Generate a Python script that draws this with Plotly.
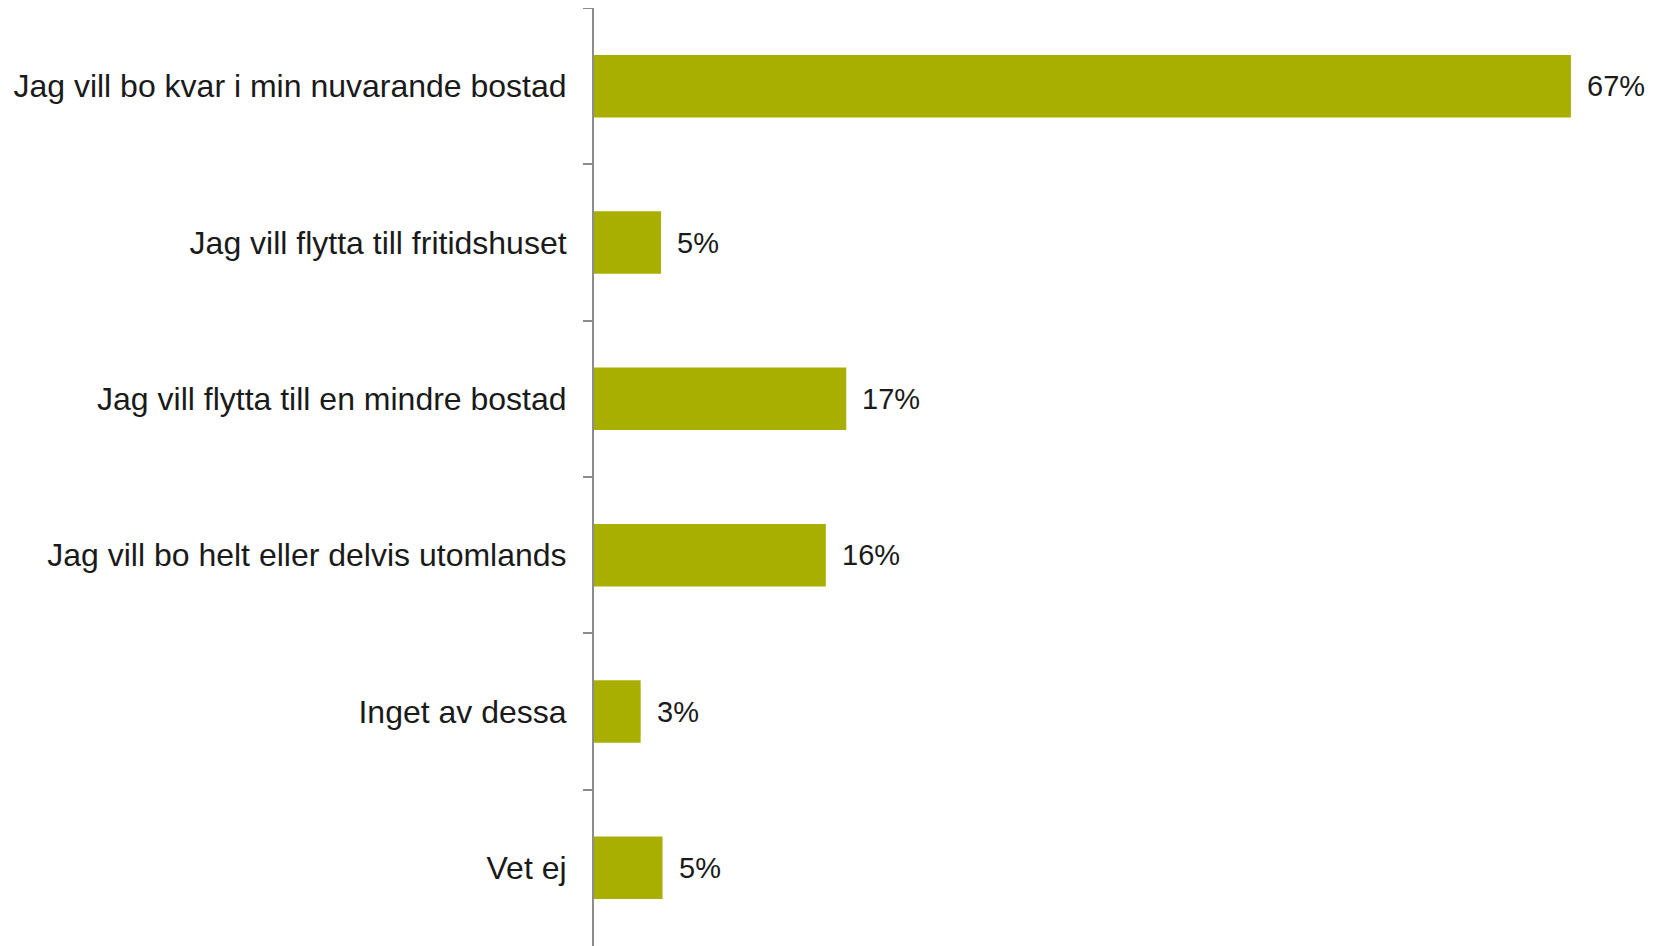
import plotly.graph_objects as go

categories = [
    "Jag vill bo kvar i min nuvarande bostad",
    "Jag vill flytta till fritidshuset",
    "Jag vill flytta till en mindre bostad",
    "Jag vill bo helt eller delvis utomlands",
    "Inget av dessa",
    "Vet ej",
]
values = [67.0, 4.6, 17.3, 15.9, 3.2, 4.7]

BAR_COLOR = "#A9AF00"
FONT = "Liberation Sans, Arial, sans-serif"

fig = go.Figure()
fig.add_trace(go.Bar(
    x=values,
    y=categories,
    orientation="h",
    marker=dict(color=BAR_COLOR, line=dict(width=0)),
    hoverinfo="skip",
))

for cat, v in zip(categories, values):
    fig.add_annotation(
        x=v, y=cat, xref="x", yref="y",
        text=f"{v:.0f}%",
        showarrow=False,
        xanchor="left", yanchor="middle",
        xshift=14,
        font=dict(family=FONT, size=29, color="#1a1a1a"),
    )

fig.update_layout(
    width=1658, height=946,
    margin=dict(l=586, r=20, t=0, b=8, pad=0),
    paper_bgcolor="white", plot_bgcolor="white",
    bargap=0.6,
    showlegend=False,
    font=dict(family=FONT, color="#1a1a1a"),
)
fig.update_xaxes(
    visible=False,
    range=[0, 72.15],
    showgrid=False, zeroline=False,
)
fig.update_yaxes(
    type="category",
    categoryorder="array", categoryarray=categories,
    range=[5.5, -0.5],
    showline=True, linecolor="#8c8c8c", linewidth=2,
    ticks="outside", tickson="boundaries", ticklen=9, tickwidth=2, tickcolor="#8c8c8c",
    showgrid=False, zeroline=False,
    tickfont=dict(family=FONT, size=32, color="#1a1a1a"),
    ticklabelstandoff=19,
)

fig.write_html("out.html")
